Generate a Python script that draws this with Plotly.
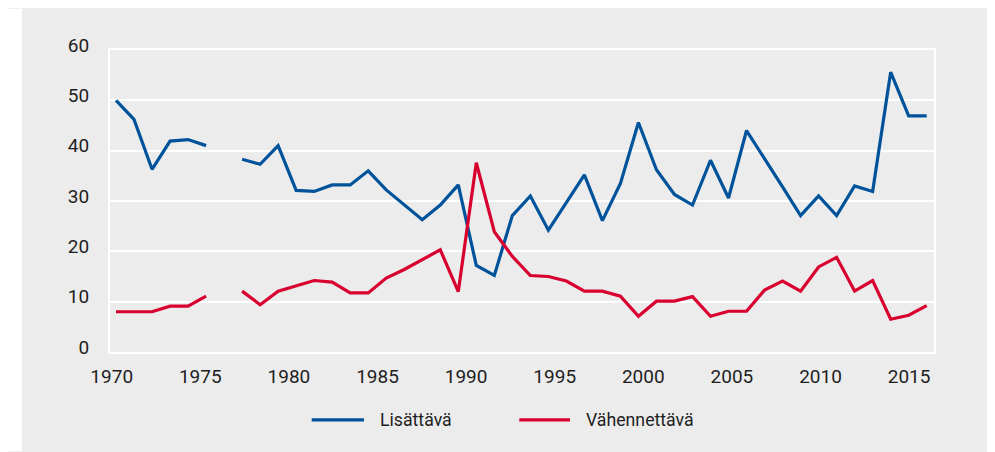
import plotly.graph_objects as go

years = list(range(1970, 2016))
lisattava = [50.0, 46.2, 36.3, 41.9, 42.2, 41.0, None, 38.3, 37.3, 41.0,
             32.1, 31.9, 33.2, 33.2, 36.0, 32.2, 29.2, 26.3, 29.2, 33.2,
             17.2, 15.2, 27.1, 31.0, 24.2, 29.6, 35.2, 26.1, 33.5, 45.6,
             36.2, 31.3, 29.2, 38.1, 30.6, 44.0, 38.5, 32.8, 27.1, 31.0,
             27.1, 33.0, 31.9, 55.6, 46.9, 46.9]
vahennettava = [8.0, 8.0, 8.0, 9.1, 9.1, 11.1, None, 12.1, 9.4, 12.1,
                13.2, 14.2, 13.9, 11.75, 11.75, 14.7, 16.4, 18.3, 20.3, 12.0,
                37.6, 23.9, 19.0, 15.2, 15.0, 14.1, 12.1, 12.1, 11.1, 7.1,
                10.1, 10.1, 11.0, 7.1, 8.1, 8.1, 12.3, 14.1, 12.1, 16.9,
                18.8, 12.1, 14.2, 6.5, 7.3, 9.2]
series_names = ["Lisättävä", "Vähennettävä"]
series_colors = ["#00539b", "#d8002f"]
year_ticks = list(range(1970, 2016, 5))
value_ticks = list(range(0, 61, 10))

# page has an 8px body margin; figure sized to fill the rest of the window
OFF = 8
W, H = 995 - OFF, 452 - OFF
ML, MR, MT, MB = 110 - OFF, 61, 49.5 - OFF, 99.5
PW, PH = W - ML - MR, H - MT - MB
BG = "#ececec"
TXT = "#1e1e1e"
FONT = "Roboto, Arial, sans-serif"

fig = go.Figure()
for name, vals, col in zip(series_names, [lisattava, vahennettava], series_colors):
    fig.add_trace(go.Scatter(x=years, y=vals, name=name, mode="lines",
                             line=dict(color=col, width=3.2), connectgaps=False,
                             showlegend=False))
# helper trace for label axis
fig.add_trace(go.Scatter(x=[], y=[], xaxis="x2", showlegend=False, hoverinfo="skip"))

fig.update_layout(
    width=W, height=H,
    margin=dict(l=ML, r=MR, t=MT, b=MB, pad=0),
    paper_bgcolor=BG, plot_bgcolor=BG,
    font=dict(family=FONT, size=19, color=TXT),
    xaxis=dict(range=[1969.667, 2015.406], showticklabels=False, showgrid=False,
               zeroline=False, showline=True, mirror=True, linecolor="white",
               linewidth=2, ticks=""),
    xaxis2=dict(range=[1969.904, 2016.405], overlaying="x", anchor="y", side="bottom",
                tickvals=year_ticks, ticktext=[str(y) for y in year_ticks],
                showgrid=False, zeroline=False, showline=False, ticks="",
                ticklabelstandoff=11, tickfont=dict(size=19, color=TXT)),
    yaxis=dict(range=[0, 60], tickvals=value_ticks, showgrid=True, gridcolor="white",
               gridwidth=2, zeroline=False, showline=True, mirror=True,
               linecolor="white", linewidth=2, ticks="", ticklabelstandoff=15,
               ticklabelshift=-5, tickfont=dict(size=19, color=TXT)),
)

def px_x(p):
    return (p - OFF - ML) / PW
def px_y(p):
    return 1 - (p - OFF - MT) / PH

# white strip left of the gray panel
fig.add_shape(type="rect", xref="paper", yref="paper", x0=px_x(OFF), x1=px_x(22),
              y0=px_y(452), y1=px_y(OFF), fillcolor="white", line=dict(width=0), layer="below")

# manual legend
leg_y = px_y(420.7)
legend_items = [(311.7, 364, 378), (519.3, 570, 584)]
for (lx0, lx1, tx), name, col in zip(legend_items, series_names, series_colors):
    fig.add_shape(type="line", xref="paper", yref="paper", x0=px_x(lx0), x1=px_x(lx1),
                  y0=leg_y, y1=leg_y, line=dict(color=col, width=3.2))
    fig.add_annotation(xref="paper", yref="paper", x=px_x(tx), y=leg_y, text=name,
                       showarrow=False, xanchor="left", yanchor="middle",
                       font=dict(family=FONT, size=17.7, color=TXT))

fig.write_html("out.html")
